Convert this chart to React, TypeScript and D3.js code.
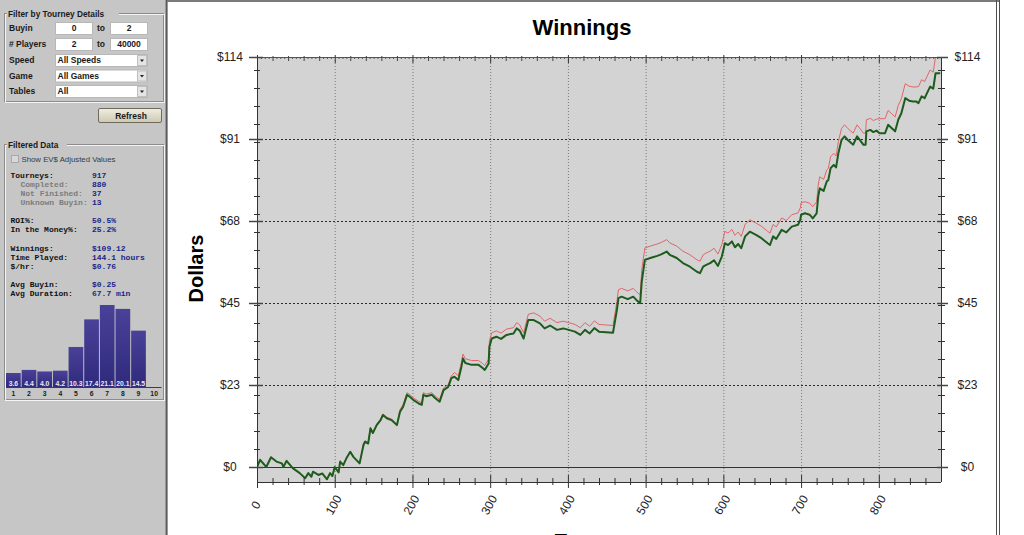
import React from "react";
import * as d3 from "d3";

// ---------- chart data ----------
const tourneyIndex = [
  0, 4, 12, 18, 25, 32, 34, 38, 46, 55, 62, 66, 70, 72, 79, 84, 90, 94, 97, 100,
  105, 107, 111, 115, 120, 124, 132, 137, 139, 143, 146, 149, 154, 159, 162, 167, 173, 180, 184, 188,
  193, 197, 201, 208, 212, 214, 218, 225, 229, 235, 240, 246, 250, 254, 259, 263, 265, 268, 276, 285,
  290, 293, 298, 299, 302, 308, 314, 321, 330, 334, 338, 343, 349, 356, 364, 370, 377, 386, 394, 401,
  409, 416, 422, 428, 434, 440, 458, 463, 465, 469, 477, 484, 488, 493, 495, 499, 506, 515, 520, 527,
  531, 540, 548, 557, 566, 570, 574, 578, 583, 588, 593, 598, 602, 606, 611, 615, 619, 623, 628, 634,
  642, 649, 657, 660, 664, 668, 675, 681, 688, 696, 699, 700, 705, 711, 715, 720, 722, 724, 729, 733,
  735, 738, 742, 745, 748, 752, 756, 760, 767, 772, 776, 780, 783, 784, 789, 793, 797, 801, 808, 812,
  816, 821, 825, 829, 834, 839, 844, 848, 851, 855, 859, 862, 866, 870, 873, 879,
];

const winnings = [
  0, 2, 0, 2.7, 1.5, 1, 0, 1.7, -0.3, -1.7, -3.1, -1.7, -2.7, -1.3, -2.2, -1.8, -3.4, -1.7, -2.5, 0,
  -1.5, 1.5, 0.5, 2.4, 4.2, 2.8, 1, 6.1, 7, 6.5, 10.7, 9.4, 11.6, 13, 14.4, 13.5, 13, 11.6, 15.3, 16.7,
  20, 19.4, 18.6, 17.6, 17.2, 20, 19.6, 20, 19.1, 18.1, 21.3, 22.2, 24.6, 25, 24.1, 27.8, 30.1, 28.8, 28.3, 28.3,
  27.5, 26.9, 28.7, 33.3, 35.6, 36.1, 35.5, 36.6, 37, 38.4, 37.8, 35.6, 40.7, 40.7, 39.8, 38.4, 39.2, 38, 38.4, 38,
  37.5, 36.6, 38, 37, 38.5, 37.5, 37.2, 43.5, 46.8, 47.2, 46.5, 47.2, 46.3, 45.4, 51.4, 57.4, 57.9, 58.5, 58.9, 59.7,
  58.8, 57.9, 56.5, 55.5, 54.1, 53.7, 55.5, 56, 56.5, 57.3, 55.7, 58.3, 62, 61.5, 62.5, 60.9, 61.8, 60.6, 63.9, 65.2,
  64.3, 63.4, 62, 61.5, 63.9, 63.2, 65.7, 65, 66.6, 67.1, 68.5, 69.9, 70.3, 69.9, 68.9, 70.3, 74.9, 77.2, 76.5, 79.1,
  79.5, 82.8, 83.7, 83, 87, 90.6, 91.6, 90.6, 89.3, 91.6, 90.5, 89.3, 89.3, 93, 93.4, 92.8, 93.2, 92.5, 92.5, 94.8,
  94, 93, 96.2, 98, 102.2, 101.5, 101.3, 101.3, 100.8, 102.7, 102.2, 103.6, 105.4, 104.8, 109.1, 109.1,
];

const evWinnings = [
  0, 2, 0, 2.7, 1.5, 1, 0, 1.7, -0.3, -1.7, -3.1, -1.7, -2.7, -1.3, -2.2, -1.8, -3.4, -1.7, -2.5, 0,
  -1.5, 1.5, 0.5, 2.4, 4.2, 2.8, 1, 6.4, 7.3, 6.8, 11.0, 9.7, 11.9, 13.3, 14.7, 13.8, 13.3, 11.9, 15.9, 17.3,
  20.6, 20.0, 19.2, 18.2, 17.8, 20.6, 20.2, 20.6, 19.7, 18.7, 21.9, 22.8, 25.2, 26.2, 25.3, 29.0, 31.3, 30.0, 29.5, 29.5,
  28.7, 28.1, 29.9, 34.9, 37.2, 37.7, 37.1, 38.2, 38.6, 40.0, 39.4, 37.2, 42.3, 42.7, 41.8, 40.4, 41.2, 40.0, 40.4, 40.0,
  39.5, 38.6, 40.0, 39.0, 40.5, 39.5, 39.2, 45.8, 49.1, 49.5, 48.8, 49.5, 48.6, 47.7, 54.7, 60.7, 61.2, 61.8, 62.2, 63.0,
  62.1, 61.2, 59.8, 58.8, 57.4, 57.0, 58.8, 59.3, 59.8, 60.6, 59.0, 61.6, 65.3, 64.8, 65.8, 64.2, 65.1, 63.9, 67.2, 68.5,
  67.6, 66.7, 65.3, 64.8, 67.2, 66.5, 69.0, 68.3, 69.9, 70.4, 71.8, 73.2, 73.5, 73.1, 72.1, 73.5, 78.1, 80.4, 79.7, 82.3,
  82.7, 86.0, 86.9, 86.2, 90.2, 93.8, 94.8, 93.8, 92.5, 94.8, 93.7, 92.5, 92.5, 96.2, 96.6, 96.0, 96.4, 96.5, 96.5, 98.8,
  98.0, 97.0, 100.2, 102.0, 106.2, 105.5, 105.3, 105.3, 105.4, 107.3, 106.8, 108.2, 110.0, 109.4, 113.7, 113.7,
];

const yTickValues = [0, 22.72, 45.44, 68.16, 90.88, 113.6];
const yTickLabels = ["$0", "$23", "$45", "$68", "$91", "$114"];
const xTickValues = [0, 100, 200, 300, 400, 500, 600, 700, 800];

// ---------- left panel data ----------
const filterLabels = ["Buyin", "# Players", "Speed", "Game", "Tables"];
const rangeFrom = ["0", "2"];
const rangeTo = ["2", "40000"];
const comboValues = ["All Speeds", "All Games", "All"];

const statLabels = [
  "Tourneys:", "Completed:", "Not Finished:", "Unknown Buyin:",
  "ROI%:", "In the Money%:",
  "Winnings:", "Time Played:", "$/hr:",
  "Avg Buyin:", "Avg Duration:",
];
const statValues = [
  "917", "880", "37", "13",
  "50.5%", "25.2%",
  "$109.12", "144.1 hours", "$0.76",
  "$0.25", "67.7 min",
];
const statIndented = [false, true, true, true, false, false, false, false, false, false, false];
const statBaselines = [178, 187, 196, 205, 223, 232, 250.5, 259.5, 268.5, 286.5, 295.5];

const histBuckets = ["1", "2", "3", "4", "5", "6", "7", "8", "9", "10"];
const histValues = [3.6, 4.4, 4.0, 4.2, 10.3, 17.4, 21.1, 20.1, 14.5, 0];

const PANEL = "#c6c6c6";
const SANS = "'Liberation Sans', Arial, sans-serif";
const MONO = "'Liberation Mono', 'Courier New', monospace";

function GroupBox({ x, y, w, h, title, tw }: any) {
  return (
    <g>
      <rect x={x + 0.5} y={y + 0.5} width={w} height={h} fill="none" stroke="#8c8c8c" />
      <rect x={x + 1.5} y={y + 1.5} width={w} height={h} fill="none" stroke="#f4f4f4" />
      <rect x={x + 3} y={y - 4} width={tw} height={9} fill={PANEL} />
      <text x={x + 4} y={y + 3.5} fontFamily={SANS} fontWeight="bold" fontSize={8.3} fill="#1a1a1a">
        {title}
      </text>
    </g>
  );
}

export default function App() {
  const x = d3.scaleLinear().domain([0, 880]).range([257, 941]);
  const y = d3.scaleLinear().domain([0, 113.6]).range([467, 57]);
  const plotLeft = x(0);
  const plotRight = x(880);
  const plotTop = y(113.6);
  const plotBottom = 482;

  const line = d3
    .line<number>()
    .x((_, i) => x(tourneyIndex[i]))
    .y((d) => y(d));

  const minorY = d3.range(5, 113, 5);
  const minorX = d3.range(20, 880, 20).filter((v) => v % 100 !== 0);
  const tinyX = d3.range(5, 880, 5).filter((v) => v % 20 !== 0);

  const hx = d3.scaleBand().domain(histBuckets).range([6, 161.5]).paddingInner(0.06);
  const hy = d3.scaleLinear().domain([0, 21.1]).range([387, 305]);

  const rowBase = [31, 47, 63, 78.5, 94];
  const rowTop = [22.5, 38.5, 54.5, 70, 85.5];

  return (
    <svg
      width={1024}
      height={535}
      style={{ position: "absolute", left: 0, top: 0, display: "block" }}
      xmlns="http://www.w3.org/2000/svg"
    >
      <defs>
        <clipPath id="plotClip">
          <rect x={plotLeft} y={plotTop} width={plotRight - plotLeft} height={plotBottom - plotTop} />
        </clipPath>
        <linearGradient id="barGrad" x1="0" y1="0" x2="0" y2="1">
          <stop offset="0" stopColor="#4a4198" />
          <stop offset="1" stopColor="#2f2a7c" />
        </linearGradient>
        <linearGradient id="btnGrad" x1="0" y1="0" x2="0" y2="1">
          <stop offset="0" stopColor="#f0eee2" />
          <stop offset="1" stopColor="#cdc8b0" />
        </linearGradient>
      </defs>

      {/* ===== left panel ===== */}
      <rect x={0} y={0} width={166} height={535} fill={PANEL} />
      <rect x={165} y={0} width={3} height={535} fill="#9a9a9a" />
      <line x1={166.5} y1={0} x2={166.5} y2={535} stroke="#5a5a5a" />

      <GroupBox x={4} y={13} w={159} h={88} title="Filter by Tourney Details" tw={112} />

      {filterLabels.map((lab, i) => (
        <text key={lab} x={9} y={rowBase[i]} fontFamily={SANS} fontWeight="bold" fontSize={8.5} fill="#1a1a1a">
          {lab}
        </text>
      ))}
      {rangeFrom.map((v, i) => (
        <g key={"r" + i}>
          <rect x={55.5} y={rowTop[i]} width={37} height={12} fill="#ffffff" stroke="#b8b8b8" />
          <text x={74} y={rowBase[i]} textAnchor="middle" fontFamily={SANS} fontWeight="bold" fontSize={8.5} fill="#1a1a1a">
            {v}
          </text>
          <text x={97} y={rowBase[i]} fontFamily={SANS} fontWeight="bold" fontSize={8.5} fill="#1a1a1a">
            to
          </text>
          <rect x={110.5} y={rowTop[i]} width={37} height={12} fill="#ffffff" stroke="#b8b8b8" />
          <text x={129} y={rowBase[i]} textAnchor="middle" fontFamily={SANS} fontWeight="bold" fontSize={8.5} fill="#1a1a1a">
            {rangeTo[i]}
          </text>
        </g>
      ))}
      {comboValues.map((v, k) => {
        const i = k + 2;
        return (
          <g key={"c" + k}>
            <rect x={55.5} y={rowTop[i]} width={92} height={12} fill="#ffffff" stroke="#b8b8b8" />
            <rect x={137.5} y={rowTop[i] + 1} width={9} height={10} fill="#e4e4e4" stroke="#c0c0c0" />
            <path
              d={`M140,${rowTop[i] + 5} L144,${rowTop[i] + 5} L142,${rowTop[i] + 7.5} Z`}
              fill="#202020"
            />
            <text x={57.5} y={rowBase[i]} fontFamily={SANS} fontWeight="bold" fontSize={8.5} fill="#1a1a1a">
              {v}
            </text>
          </g>
        );
      })}

      <rect x={98.5} y={108.5} width={63} height={14} rx={1.5} fill="url(#btnGrad)" stroke="#6e6b5c" />
      <text x={131} y={118.5} textAnchor="middle" fontFamily={SANS} fontWeight="bold" fontSize={8.5} fill="#1a1a1a">
        Refresh
      </text>

      <GroupBox x={4} y={144} w={159} h={255} title="Filtered Data" tw={60} />

      <rect x={11.5} y={155.5} width={7} height={7} fill="#d8d8d8" stroke="#a8a8a8" />
      <text x={21.5} y={161.5} fontFamily={SANS} fontSize={7.8} fill="#3a3a3a">
        Show EV$ Adjusted Values
      </text>

      {statLabels.map((lab, i) => (
        <g key={lab}>
          <text
            x={statIndented[i] ? 20.5 : 10.5}
            y={statBaselines[i]}
            fontFamily={MONO}
            fontWeight="bold"
            fontSize={8}
            fill={statIndented[i] ? "#7c7c7c" : "#111111"}
          >
            {lab}
          </text>
          <text x={92} y={statBaselines[i]} fontFamily={MONO} fontWeight="bold" fontSize={8} fill="#221f88">
            {statValues[i]}
          </text>
        </g>
      ))}

      {/* histogram */}
      {histValues.map((v, i) => {
        const b = histBuckets[i];
        const bx = hx(b)!;
        return (
          <g key={"h" + b}>
            {v > 0 && (
              <rect x={bx} y={hy(v)} width={hx.bandwidth()} height={hy(0) - hy(v)} fill="url(#barGrad)" />
            )}
            {v > 0 && (
              <text
                x={bx + hx.bandwidth() / 2}
                y={385.5}
                textAnchor="middle"
                fontFamily={SANS}
                fontWeight="bold"
                fontSize={6.8}
                fill="#e8e8f4"
              >
                {v.toFixed(1)}
              </text>
            )}
            <text
              x={bx + hx.bandwidth() / 2}
              y={395.5}
              textAnchor="middle"
              fontFamily={SANS}
              fontWeight="bold"
              fontSize={6.8}
              fill="#1a1a1a"
            >
              {b}
            </text>
          </g>
        );
      })}
      <line x1={6} y1={387.5} x2={161.5} y2={387.5} stroke="#3a3480" />

      {/* ===== chart panel ===== */}
      <rect x={168} y={2} width={829} height={533} fill="#ffffff" />
      <line x1={167} y1={1} x2={1000} y2={1} stroke="#7a7a7a" strokeWidth={2} />
      <line x1={996.5} y1={0} x2={996.5} y2={535} stroke="#505050" />
      <line x1={999.5} y1={0} x2={999.5} y2={535} stroke="#505050" />

      <text x={582} y={35} textAnchor="middle" fontFamily={SANS} fontWeight="bold" fontSize={22} fill="#000">
        Winnings
      </text>
      <text
        transform="translate(203,268.5) rotate(-90)"
        textAnchor="middle"
        fontFamily={SANS}
        fontWeight="bold"
        fontSize={20}
        fill="#000"
      >
        Dollars
      </text>
      <text x={599} y={547.5} textAnchor="middle" fontFamily={SANS} fontWeight="bold" fontSize={20} fill="#000">
        Tourneys
      </text>

      {/* plot background */}
      <rect x={plotLeft} y={plotTop} width={plotRight - plotLeft} height={plotBottom - plotTop} fill="#d3d3d3" />

      {/* grid */}
      {xTickValues
        .filter((v) => v > 0)
        .map((v) => (
          <line
            key={"gx" + v}
            x1={x(v) + 0.5}
            x2={x(v) + 0.5}
            y1={plotTop}
            y2={plotBottom}
            stroke="#7a7a7a"
            strokeDasharray="1,2"
          />
        ))}
      {yTickValues
        .filter((v) => v > 0 && v < 113)
        .map((v) => (
          <line
            key={"gy" + v}
            x1={plotLeft}
            x2={plotRight}
            y1={Math.round(y(v)) + 0.5}
            y2={Math.round(y(v)) + 0.5}
            stroke="#2a2a2a"
            strokeDasharray="2,2"
          />
        ))}
      <line x1={plotLeft} x2={plotRight} y1={y(0) + 0.5} y2={y(0) + 0.5} stroke="#333" />

      {/* series */}
      <g clipPath="url(#plotClip)">
        <path d={line(evWinnings) || ""} fill="none" stroke="#e0666a" strokeWidth={1} strokeLinejoin="round" />
        <path d={line(winnings) || ""} fill="none" stroke="#1d5c1d" strokeWidth={2} strokeLinejoin="round" />
      </g>

      {/* frame */}
      <line x1={plotLeft} x2={plotRight} y1={plotTop + 0.5} y2={plotTop + 0.5} stroke="#555" />
      <line x1={plotLeft} x2={plotRight} y1={plotBottom + 0.5} y2={plotBottom + 0.5} stroke="#333" />
      <line x1={plotLeft + 0.5} x2={plotLeft + 0.5} y1={plotTop} y2={plotBottom} stroke="#333" />
      <line x1={plotRight + 0.5} x2={plotRight + 0.5} y1={plotTop} y2={plotBottom} stroke="#333" />

      {/* top ticks */}
      {tinyX.map((v) => (
        <line key={"tt" + v} x1={x(v) + 0.5} x2={x(v) + 0.5} y1={plotTop} y2={plotTop + 2} stroke="#555" />
      ))}
      {minorX.map((v) => (
        <line key={"tm" + v} x1={x(v) + 0.5} x2={x(v) + 0.5} y1={plotTop - 1} y2={plotTop + 4} stroke="#444" />
      ))}
      {xTickValues.map((v) => (
        <line key={"tM" + v} x1={x(v) + 0.5} x2={x(v) + 0.5} y1={plotTop - 2} y2={plotTop + 6} stroke="#333" />
      ))}

      {/* bottom ticks + labels */}
      {minorX.map((v) => (
        <line key={"bm" + v} x1={x(v) + 0.5} x2={x(v) + 0.5} y1={plotBottom - 4} y2={plotBottom + 3} stroke="#333" />
      ))}
      {xTickValues.map((v) => (
        <g key={"bM" + v}>
          <line x1={x(v) + 0.5} x2={x(v) + 0.5} y1={plotBottom - 7} y2={plotBottom + 6} stroke="#333" />
          <text
            transform={`translate(${x(v) - 1},${505}) rotate(-60)`}
            textAnchor="middle"
            dominantBaseline="central"
            fontFamily={SANS}
            fontSize={12}
            fill="#222"
          >
            {v}
          </text>
        </g>
      ))}

      {/* left / right ticks */}
      {minorY.map((v) => (
        <g key={"my" + v}>
          <line x1={plotLeft - 3} x2={plotLeft + 3} y1={Math.round(y(v)) + 0.5} y2={Math.round(y(v)) + 0.5} stroke="#333" />
          <line x1={plotRight - 3} x2={plotRight + 4} y1={Math.round(y(v)) + 0.5} y2={Math.round(y(v)) + 0.5} stroke="#333" />
        </g>
      ))}
      {yTickValues.map((v, i) => (
        <g key={"My" + v}>
          <line x1={plotLeft - 8} x2={plotLeft + 6} y1={Math.round(y(v)) + 0.5} y2={Math.round(y(v)) + 0.5} stroke="#444" strokeWidth={1.5} />
          <line x1={plotRight - 4} x2={plotRight + 7} y1={Math.round(y(v)) + 0.5} y2={Math.round(y(v)) + 0.5} stroke="#444" strokeWidth={1.5} />
          <text x={230} y={y(v)} textAnchor="middle" dominantBaseline="central" fontFamily={SANS} fontSize={12} fill="#222">
            {yTickLabels[i]}
          </text>
          <text x={967.5} y={y(v)} textAnchor="middle" dominantBaseline="central" fontFamily={SANS} fontSize={12} fill="#222">
            {yTickLabels[i]}
          </text>
        </g>
      ))}
    </svg>
  );
}
